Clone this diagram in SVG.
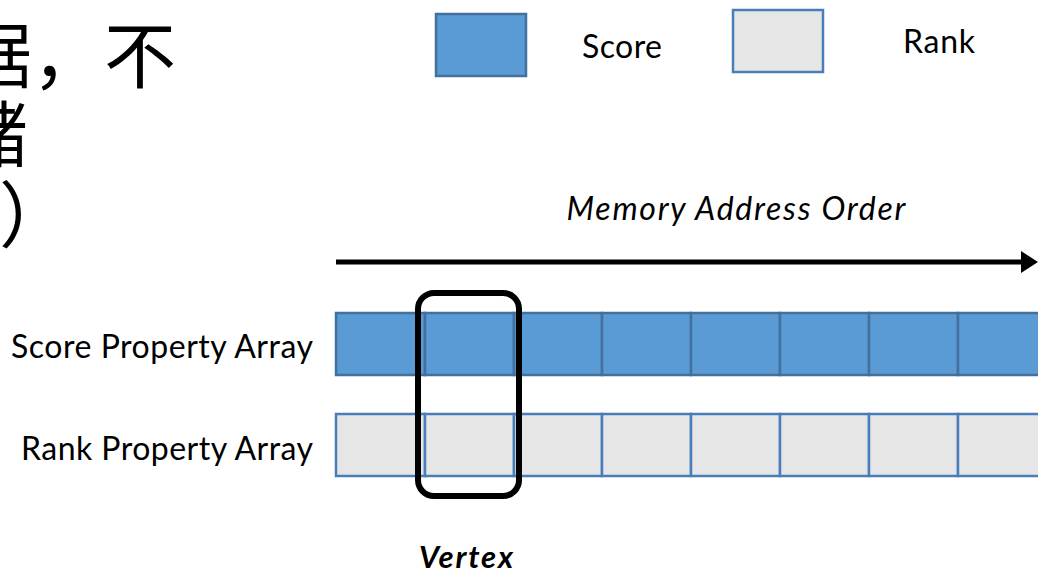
<svg xmlns="http://www.w3.org/2000/svg" width="1038" height="573" viewBox="0 0 1038 573">
  <defs>
    <style>
      .lbl { font-family: Lato, "Liberation Sans", Arial, sans-serif; fill: #000; }
      .cjk { font-family: "Noto Sans CJK SC", "Noto Sans", sans-serif; font-size: 72px; fill: #000; }
      .score { fill: #5B9BD5; stroke: #41719C; stroke-width: 2.5; }
      .rank { fill: #E6E6E6; stroke: #4A7EBB; stroke-width: 2.5; }
    </style>
    <marker id="arrowHead" markerWidth="4" markerHeight="5" refX="0" refY="2.2" orient="auto" markerUnits="strokeWidth">
      <path d="M0,0 L3.4,2.2 L0,4.4 Z" fill="#000"/>
    </marker>
  </defs>
  <rect width="1038" height="573" fill="#fff"/>

  <!-- Heading text, running off the left edge -->
  <g id="heading">
    <text class="cjk" x="176" y="82" text-anchor="end">据，不</text>
    <text class="cjk" x="28" y="161" text-anchor="end">储</text>
    <text class="cjk" x="71" y="241" text-anchor="end">）</text>
  </g>

  <!-- Legend -->
  <g id="legend-score">
    <rect class="score" x="436" y="14" width="90" height="62"/>
    <text class="lbl" x="582" y="58" font-size="32" textLength="80">Score</text>
  </g>
  <g id="legend-rank">
    <rect class="rank" x="733" y="10" width="90" height="62"/>
    <text class="lbl" x="903" y="53" font-size="32" textLength="72">Rank</text>
  </g>

  <!-- Address direction -->
  <g id="connectors">
    <line x1="336" y1="262" x2="1021" y2="262" stroke="#000" stroke-width="5" marker-end="url(#arrowHead)"/>
  </g>
  <text class="lbl" x="736" y="220" font-size="32" font-style="italic" text-anchor="middle" textLength="339">Memory Address Order</text>

  <!-- Score property array -->
  <g id="score-array">
    <text class="lbl" x="313" y="358" font-size="32" text-anchor="end" textLength="302">Score Property Array</text>
    <rect class="score" x="336" y="313" width="89" height="62"/>
    <rect class="score" x="425" y="313" width="89" height="62"/>
    <rect class="score" x="514" y="313" width="88" height="62"/>
    <rect class="score" x="602" y="313" width="89" height="62"/>
    <rect class="score" x="691" y="313" width="89" height="62"/>
    <rect class="score" x="780" y="313" width="89" height="62"/>
    <rect class="score" x="869" y="313" width="89" height="62"/>
    <rect class="score" x="958" y="313" width="89" height="62"/>
  </g>

  <!-- Rank property array -->
  <g id="rank-array">
    <text class="lbl" x="313" y="460" font-size="32" text-anchor="end" textLength="292">Rank Property Array</text>
    <rect class="rank" x="336" y="414" width="89" height="62"/>
    <rect class="rank" x="425" y="414" width="89" height="62"/>
    <rect class="rank" x="514" y="414" width="88" height="62"/>
    <rect class="rank" x="602" y="414" width="89" height="62"/>
    <rect class="rank" x="691" y="414" width="89" height="62"/>
    <rect class="rank" x="780" y="414" width="89" height="62"/>
    <rect class="rank" x="869" y="414" width="89" height="62"/>
    <rect class="rank" x="958" y="414" width="89" height="62"/>
  </g>

  <!-- One vertex spans both arrays -->
  <g id="vertex">
    <rect x="418" y="293" width="101" height="203" rx="16" fill="none" stroke="#000" stroke-width="6"/>
    <text class="lbl" x="466" y="568" font-size="31" font-weight="bold" font-style="italic" text-anchor="middle" textLength="94">Vertex</text>
  </g>
</svg>
